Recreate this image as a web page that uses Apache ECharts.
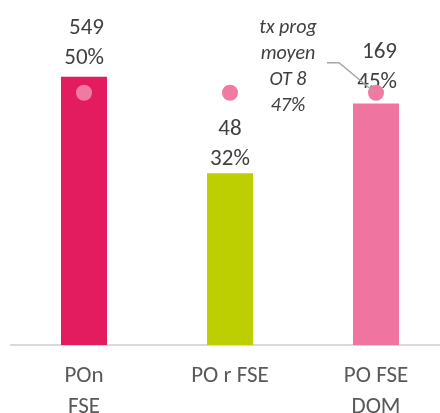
<!DOCTYPE html>
<html>
<head>
<meta charset="utf-8">
<script src="https://cdn.jsdelivr.net/npm/echarts@6/dist/echarts.min.js"></script>
<style>
  html, body { margin: 0; padding: 0; background: #fff; }
  #main { width: 440px; height: 413px; }
</style>
</head>
<body>
<div id="main"></div>
<script>
// categories and values
const categories = ['POn\nFSE', 'PO r FSE', 'PO FSE\nDOM']
const counts = [549, 48, 169]
const rates = [50, 32, 45]          // taux de programmation (%)
const avgRate = [47, 47, 47]        // tx prog moyen OT 8
const avgLabel = 'tx prog\nmoyen\nOT 8\n47%'

const barColors = ['#E31B5F', '#BDCF00', '#F074A0']
// label placement per bar (manually placed in the original)
const labelGap = [3, -1, 6]
const labelAlign = ['right', 'center', 'right']
const labelShift = [20, 0, 21]

const font = 'Carlito, Calibri, "Liberation Sans", sans-serif'

let chart = echarts.init(document.getElementById('main'))

let option = {
  animation: false,
  grid: { left: 11, right: -9, top: 23, bottom: 68, outerBoundsMode: 'none' },
  xAxis: {
    type: 'category',
    data: categories,
    axisLine: { lineStyle: { color: '#d9d9d9', width: 2 } },
    axisTick: { show: false },
    axisLabel: {
      margin: 16,
      color: '#595959',
      fontFamily: font,
      fontSize: 23,
      lineHeight: 31,
      verticalAlign: 'top'
    }
  },
  yAxis: {
    type: 'value',
    min: 0,
    max: 60,
    show: false,
    splitLine: { show: false }
  },
  series: [
    {
      type: 'bar',
      barWidth: 46,
      data: rates.map(function (v, i) {
        return {
          value: v,
          itemStyle: { color: barColors[i] },
          label: { distance: labelGap[i], align: labelAlign[i], offset: [labelShift[i], 0] }
        }
      }),
      label: {
        show: true,
        position: 'top',
        color: '#404040',
        fontFamily: font,
        fontSize: 23,
        lineHeight: 30,
        formatter: function (p) {
          return counts[p.dataIndex] + '\n' + p.value + '%'
        }
      },
      z: 2
    },
    {
      type: 'scatter',
      symbol: 'circle',
      symbolSize: 16,
      data: avgRate,
      itemStyle: { color: '#F07AA3', opacity: 1 },
      z: 5
    }
  ]
}
chart.setOption(option)

// annotation for the average rate, placed relative to the last dot
let dot = chart.convertToPixel({ seriesIndex: 1 }, [2, avgRate[2]])
let tx = dot[0] - 88
let ly = dot[1] - 30
chart.setOption({
  graphic: [
    {
      type: 'text',
      x: tx,
      y: dot[1] - 26,
      style: {
        text: avgLabel,
        fill: '#404040',
        font: 'italic 20px ' + font,
        lineHeight: 26,
        align: 'center',
        verticalAlign: 'middle'
      }
    },
    {
      type: 'polyline',
      shape: { points: [[dot[0] - 49, ly], [dot[0] - 37, ly], [dot[0] - 2, dot[1] - 1]] },
      style: { stroke: '#a6a6a6', lineWidth: 1.5, fill: null },
      z: 10
    }
  ]
})
</script>
</body>
</html>
